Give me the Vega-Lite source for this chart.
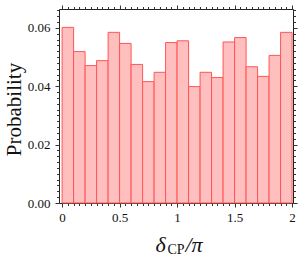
{
  "$schema": "https://vega.github.io/schema/vega-lite/v6.json",
  "width": 234,
  "height": 194,
  "autosize": {"type": "none"},
  "padding": {"left": 59, "top": 9, "right": 6, "bottom": 53},
  "config": {
    "view": {"stroke": "#222", "strokeWidth": 1},
    "font": "Liberation Serif",
    "axis": {"grid": false, "domain": false, "tickColor": "#333", "labelFont": "Liberation Serif", "titleFont": "Liberation Serif", "labelColor": "#111", "titleColor": "#111", "titleFontWeight": "normal", "labelFontSize": 13}
  },
  "data": {"values": [
    {"start": 0.0, "end": 0.1, "p": 0.0602},
    {"start": 0.1, "end": 0.2, "p": 0.0519},
    {"start": 0.2, "end": 0.3, "p": 0.0471},
    {"start": 0.3, "end": 0.4, "p": 0.0488},
    {"start": 0.4, "end": 0.5, "p": 0.0585},
    {"start": 0.5, "end": 0.6, "p": 0.0547},
    {"start": 0.6, "end": 0.7, "p": 0.0475},
    {"start": 0.7, "end": 0.8, "p": 0.0416},
    {"start": 0.8, "end": 0.9, "p": 0.0448},
    {"start": 0.9, "end": 1.0, "p": 0.0550},
    {"start": 1.0, "end": 1.1, "p": 0.0556},
    {"start": 1.1, "end": 1.2, "p": 0.0399},
    {"start": 1.2, "end": 1.3, "p": 0.0448},
    {"start": 1.3, "end": 1.4, "p": 0.0430},
    {"start": 1.4, "end": 1.5, "p": 0.0552},
    {"start": 1.5, "end": 1.6, "p": 0.0567},
    {"start": 1.6, "end": 1.7, "p": 0.0467},
    {"start": 1.7, "end": 1.8, "p": 0.0434},
    {"start": 1.8, "end": 1.9, "p": 0.0506},
    {"start": 1.9, "end": 2.0, "p": 0.0585}
  ]},
  "resolve": {"axis": {"x": "independent", "y": "independent"}},
  "layer": [
    {
      "mark": {"type": "bar", "fill": "#ffbfbf", "stroke": "#f55", "strokeWidth": 1},
      "encoding": {
        "x": {"field": "start", "type": "quantitative", "scale": {"domain": [-0.027, 2.008], "nice": false, "zero": false},
          "axis": {"orient": "bottom", "values": [0, 0.5, 1, 1.5, 2], "tickSize": 4, "labelPadding": 4, "labelFlush": false, "labelExpr": "datum.value == 0 ? '0' : datum.value == 1 ? '1' : datum.value == 2 ? '2' : format(datum.value, '.1f')",
            "title": "δ", "titleFontSize": 22, "titleFontStyle": "italic", "titleX": 96, "titleY": 48, "titleAlign": "left", "titleBaseline": "alphabetic"}},
        "x2": {"field": "end"},
        "y": {"field": "p", "type": "quantitative", "scale": {"domain": [0, 0.0665], "nice": false},
          "axis": {"orient": "left", "values": [0, 0.02, 0.04, 0.06], "format": ".2f", "tickSize": 4, "labelPadding": 5,
            "title": "Probability", "titleFontSize": 21, "titleAngle": 270, "titleX": -45, "titleY": 100, "titleAlign": "center", "titleBaseline": "middle"}},
        "y2": {"datum": 0}
      }
    },
    {
      "mark": {"type": "point", "opacity": 0},
      "encoding": {
        "x": {"field": "start", "type": "quantitative", "scale": {"domain": [-0.027, 2.008], "nice": false, "zero": false},
          "axis": {"orient": "bottom", "values": [0,0.05,0.1,0.15,0.2,0.25,0.3,0.35,0.4,0.45,0.5,0.55,0.6,0.65,0.7,0.75,0.8,0.85,0.9,0.95,1,1.05,1.1,1.15,1.2,1.25,1.3,1.35,1.4,1.45,1.5,1.55,1.6,1.65,1.7,1.75,1.8,1.85,1.9,1.95,2], "tickSize": 2.5, "labels": false,
            "title": "CP", "titleFontSize": 14, "titleX": 108, "titleY": 50, "titleAlign": "left", "titleBaseline": "alphabetic"}},
        "y": {"field": "p", "type": "quantitative", "scale": {"domain": [0, 0.0665], "nice": false},
          "axis": {"orient": "left", "values": [0,0.002,0.004,0.006,0.008,0.01,0.012,0.014,0.016,0.018,0.02,0.022,0.024,0.026,0.028,0.03,0.032,0.034,0.036,0.038,0.04,0.042,0.044,0.046,0.048,0.05,0.052,0.054,0.056,0.058,0.06,0.062,0.064,0.066], "tickSize": 2.5, "labels": false, "title": null}}
      }
    },
    {
      "mark": {"type": "point", "opacity": 0},
      "encoding": {
        "x": {"field": "start", "type": "quantitative", "scale": {"domain": [-0.027, 2.008], "nice": false, "zero": false},
          "axis": {"orient": "top", "values": [0, 0.5, 1, 1.5, 2], "tickSize": 4, "labels": false, "title": null}},
        "y": {"field": "p", "type": "quantitative", "scale": {"domain": [0, 0.0665], "nice": false},
          "axis": {"orient": "right", "values": [0, 0.02, 0.04, 0.06], "tickSize": 4, "labels": false, "title": null}}
      }
    },
    {
      "mark": {"type": "point", "opacity": 0},
      "encoding": {
        "x": {"field": "start", "type": "quantitative", "scale": {"domain": [-0.027, 2.008], "nice": false, "zero": false},
          "axis": {"orient": "top", "values": [0,0.05,0.1,0.15,0.2,0.25,0.3,0.35,0.4,0.45,0.5,0.55,0.6,0.65,0.7,0.75,0.8,0.85,0.9,0.95,1,1.05,1.1,1.15,1.2,1.25,1.3,1.35,1.4,1.45,1.5,1.55,1.6,1.65,1.7,1.75,1.8,1.85,1.9,1.95,2], "tickSize": 2.5, "labels": false, "title": null}},
        "y": {"field": "p", "type": "quantitative", "scale": {"domain": [0, 0.0665], "nice": false},
          "axis": {"orient": "right", "values": [0,0.002,0.004,0.006,0.008,0.01,0.012,0.014,0.016,0.018,0.02,0.022,0.024,0.026,0.028,0.03,0.032,0.034,0.036,0.038,0.04,0.042,0.044,0.046,0.048,0.05,0.052,0.054,0.056,0.058,0.06,0.062,0.064,0.066], "tickSize": 2.5, "labels": false, "title": null}}
      }
    },
    {
      "mark": {"type": "point", "opacity": 0},
      "encoding": {
        "x": {"field": "start", "type": "quantitative", "scale": {"domain": [-0.027, 2.008], "nice": false, "zero": false},
          "axis": {"orient": "bottom", "ticks": false, "labels": false, "title": "/π", "titleFontSize": 22, "titleFontStyle": "italic", "titleX": 126, "titleY": 48, "titleAlign": "left", "titleBaseline": "alphabetic"}},
        "y": {"field": "p", "type": "quantitative", "scale": {"domain": [0, 0.0665], "nice": false}, "axis": null}
      }
    }
  ]
}
